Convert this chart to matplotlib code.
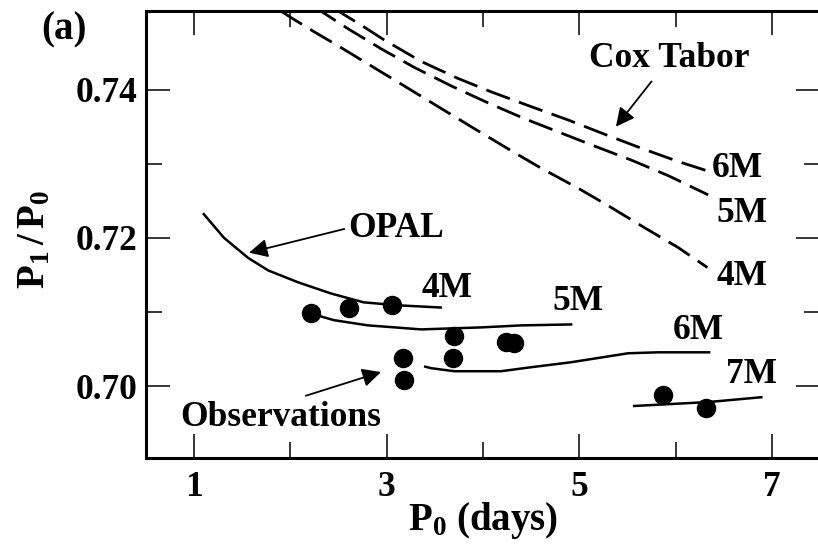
import matplotlib
matplotlib.use("Agg")
import matplotlib.pyplot as plt

plt.rcParams["font.family"] = "Liberation Serif"
plt.rcParams["font.weight"] = "bold"
plt.rcParams["axes.labelweight"] = "bold"
plt.rcParams["mathtext.fontset"] = "custom"
plt.rcParams["mathtext.rm"] = "Liberation Serif:bold"
plt.rcParams["mathtext.it"] = "Liberation Serif:bold"
plt.rcParams["mathtext.bf"] = "Liberation Serif:bold"

# Cox & Tabor period ratios (dashed)
ct_4m_p0 = [1.90, 2.007, 2.246, 2.495, 2.838, 3.181, 3.534, 3.876, 4.261,
            4.603, 4.988, 5.330, 5.673, 6.026, 6.33]
ct_4m_ratio = [0.7506, 0.7497, 0.7478, 0.7459, 0.7432, 0.7405, 0.7377,
               0.7350, 0.7320, 0.7294, 0.7267, 0.7241, 0.7214, 0.7187, 0.7160]
ct_5m_p0 = [2.25, 2.350, 2.599, 2.942, 3.285, 3.669, 4.053, 4.427, 4.780,
            5.154, 5.538, 5.922, 6.338]
ct_5m_ratio = [0.7511, 0.7503, 0.7482, 0.7455, 0.7430, 0.7405, 0.7382,
               0.7361, 0.7343, 0.7324, 0.7305, 0.7284, 0.7258]
ct_6m_p0 = [2.45, 2.558, 2.734, 2.973, 3.357, 3.741, 4.084, 4.500, 4.884,
            5.258, 5.642, 6.026, 6.338]
ct_6m_ratio = [0.7510, 0.7501, 0.7487, 0.7467, 0.7438, 0.7415, 0.7397,
               0.7377, 0.7359, 0.7340, 0.7321, 0.7303, 0.7290]

# OPAL period ratios (solid)
opal_4m_p0 = [1.10, 1.31, 1.56, 1.77, 2.08, 2.42, 2.76, 3.12, 3.56]
opal_4m_ratio = [0.7232, 0.7200, 0.7173, 0.7156, 0.7140, 0.7125, 0.7113, 0.7109, 0.7106]
opal_5m_p0 = [2.21, 2.45, 2.80, 3.357, 3.98, 4.396, 4.915]
opal_5m_ratio = [0.7098, 0.7089, 0.7082, 0.70765, 0.70792, 0.70819, 0.70832]
opal_6m_p0 = [3.40, 3.461, 3.700, 4.188, 4.50, 4.915, 5.507, 5.818, 6.348]
opal_6m_ratio = [0.70262, 0.70242, 0.70201, 0.70201, 0.70255, 0.70322, 0.70443,
                 0.70456, 0.70456]
opal_7m_p0 = [5.569, 6.34, 6.89]
opal_7m_ratio = [0.69732, 0.69785, 0.6985]

# observed Cepheids
obs_p0 = [2.21, 2.61, 3.05, 3.17, 3.18, 3.70, 3.69, 4.24, 4.32, 5.87, 6.32]
obs_ratio = [0.7099, 0.7106, 0.7109, 0.7038, 0.7008, 0.7068, 0.7038, 0.7059,
             0.7058, 0.6988, 0.6970]

fig = plt.figure(figsize=(8.18, 5.45), dpi=100)
ax = fig.add_axes([0.1785, 0.1596, 0.824, 0.8202])

dash = (9.0, 3.5)
for x, y in [(ct_4m_p0, ct_4m_ratio), (ct_5m_p0, ct_5m_ratio), (ct_6m_p0, ct_6m_ratio)]:
    ax.plot(x, y, color="black", lw=2.0, dashes=dash)

for x, y in [(opal_4m_p0, opal_4m_ratio), (opal_5m_p0, opal_5m_ratio),
             (opal_6m_p0, opal_6m_ratio), (opal_7m_p0, opal_7m_ratio)]:
    ax.plot(x, y, color="black", lw=1.8)

ax.plot(obs_p0, obs_ratio, "o", color="black", markersize=13)

ax.set_xlim(0.5, 7.5)
ax.set_ylim(0.6903, 0.7506)
ax.set_xticks([1, 3, 5, 7])
ax.set_xticks([2, 4, 6], minor=True)
ax.set_yticks([0.70, 0.72, 0.74])
ax.set_yticklabels(["0.70", "0.72", "0.74"])
ax.set_yticks([0.71, 0.73], minor=True)
ax.tick_params(which="both", direction="in", top=True, right=True,
               width=1.1, labelsize=25.5)
ax.tick_params(which="major", length=17)
ax.tick_params(which="minor", length=11.5)
ax.tick_params(axis="x", pad=9)
ax.tick_params(axis="y", pad=6)
for s in ax.spines.values():
    s.set_linewidth(2.2)

ax.set_xlabel(r"$\mathrm{P_0}$ (days)", fontsize=28)
ax.xaxis.set_label_coords(0.5, -0.095)
ax.set_ylabel(r"$\mathrm{P_1 \,/\, P_0}$", fontsize=28)
ax.yaxis.set_label_coords(-0.138, 0.488)

lab = dict(fontsize=25.5, ha="center", va="center")
ax.text(6.64, 0.7293, "6M", **lab)
ax.text(6.69, 0.7233, "5M", **lab)
ax.text(6.69, 0.7148, "4M", **lab)
ax.text(3.63, 0.7132, "4M", **lab)
ax.text(4.99, 0.7114, "5M", **lab)
ax.text(6.24, 0.7075, "6M", **lab)
ax.text(6.79, 0.7015, "7M", **lab)

arrow = dict(arrowstyle="-|>", color="black", lw=1.3, mutation_scale=28,
             shrinkA=0, shrinkB=0)
ax.text(5.93, 0.7442, "Cox Tabor", **lab)
ax.annotate("", xy=(5.38, 0.7350), xytext=(5.75, 0.7411), arrowprops=arrow)
ax.text(3.10, 0.7213, "OPAL", **lab)
ax.annotate("", xy=(1.57, 0.7180), xytext=(2.56, 0.7212), arrowprops=arrow)
ax.text(1.90, 0.6957, "Observations", **lab)
ax.annotate("", xy=(2.94, 0.7019), xytext=(2.16, 0.6987), arrowprops=arrow)

fig.text(64 / 818, 1 - 30 / 545, "(a)", fontsize=28, ha="center", va="center")

fig.savefig("out.png", dpi=100)
